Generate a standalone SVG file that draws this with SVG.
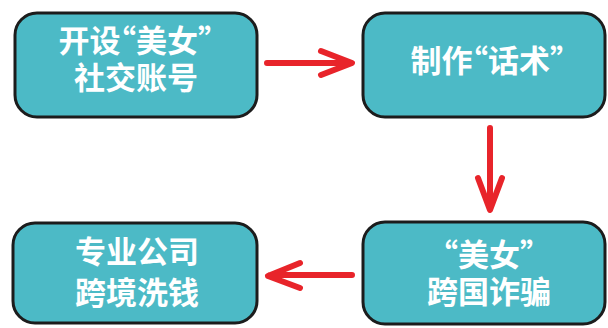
<svg xmlns="http://www.w3.org/2000/svg" width="608" height="328" viewBox="0 0 608 328">
<defs>
<style>
.box{fill:#4cbac6;stroke:#1c1c1c;stroke-width:3}
.t{font-family:"Noto Sans CJK SC","Noto Sans",sans-serif;font-weight:bold;font-size:31px;fill:#ffffff;text-anchor:middle;font-feature-settings:"halt" 1}
.arr{fill:none;stroke:#e8242a;stroke-width:6;stroke-linecap:round;stroke-linejoin:round}
</style>
</defs>
<rect width="608" height="328" fill="#ffffff"/>
<g id="node1">
<rect class="box" x="15" y="13" width="242" height="104" rx="22"/>
<text class="t" x="136" y="52">开设“美女”</text>
<text class="t" x="136" y="89">社交账号</text>
</g>
<g id="node2">
<rect class="box" x="363" y="13" width="242" height="104" rx="22"/>
<text class="t" x="488" y="72">制作“话术”</text>
</g>
<g id="node3">
<rect class="box" x="363" y="222" width="242" height="102" rx="22"/>
<text class="t" x="489" y="266">“美女”</text>
<text class="t" x="489" y="303">跨国诈骗</text>
</g>
<g id="node4">
<rect class="box" x="13" y="223" width="244" height="100" rx="22"/>
<text class="t" x="137" y="263">专业公司</text>
<text class="t" x="137" y="304">跨境洗钱</text>
</g>
<g id="connectors">
<path class="arr" d="M267 63 H351 M321 51 L352 63 L321 75"/>
<path class="arr" d="M490 128 V209 M478 178 L490 210 L502 178"/>
<path class="arr" d="M352 275 H270 M300 263 L268 276 L300 288"/>
</g>
</svg>
